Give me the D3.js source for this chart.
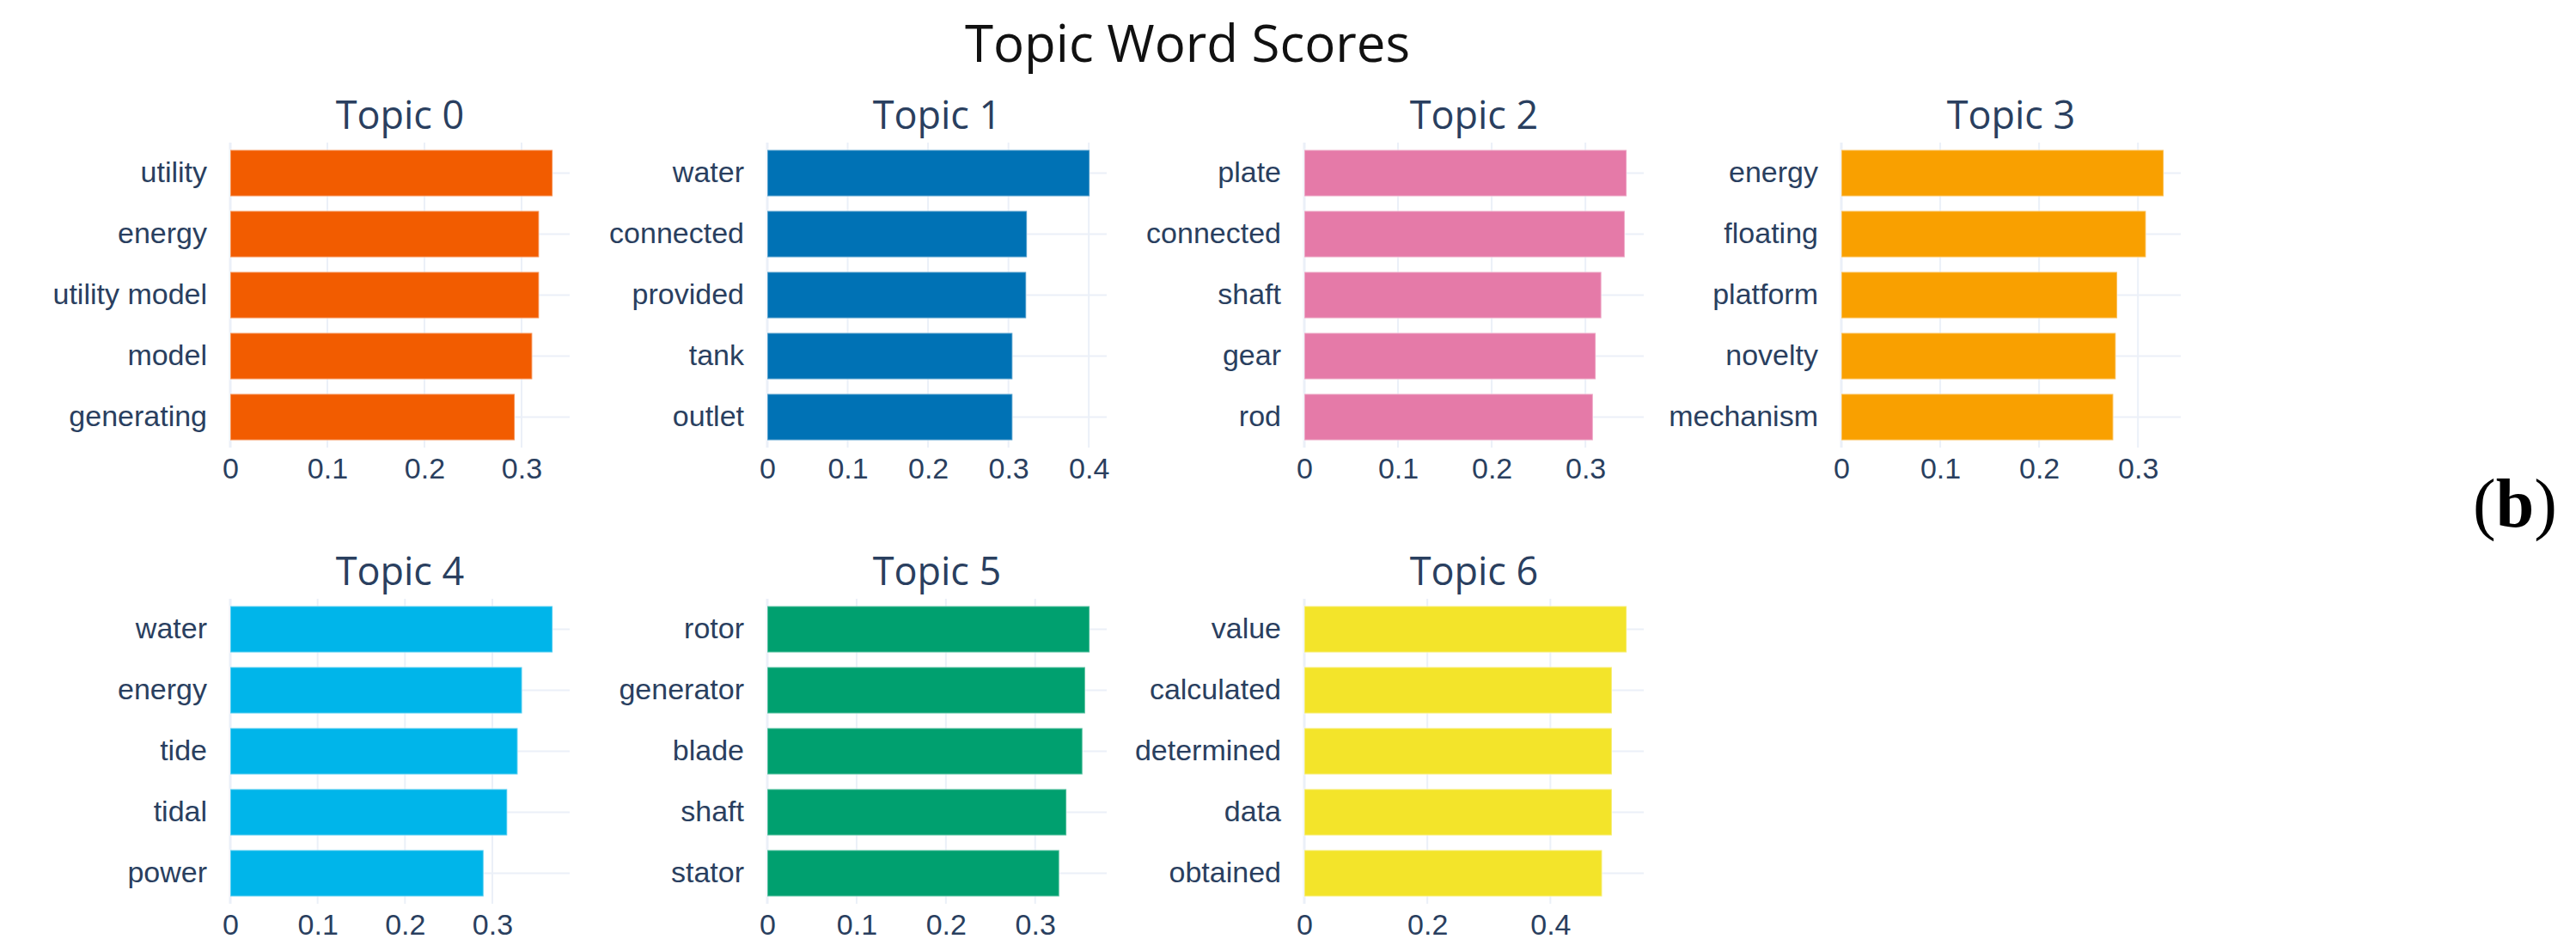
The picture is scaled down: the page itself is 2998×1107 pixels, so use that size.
<!DOCTYPE html>
<html>
<head>
<meta charset="utf-8">
<script src="https://cdn.jsdelivr.net/npm/d3@7"></script>
<style>
  body { margin: 0; background: #fff; }
  svg { display: block; font-family: "Open Sans", sans-serif; }
  .axis path, .axis line { display: none; }
  .axis text { fill: #2a3f5f; font-size: 34px; }
</style>
</head>
<body>
<svg width="2998" height="1107"></svg>
<script>
var topicNames = ["Topic 0", "Topic 1", "Topic 2", "Topic 3", "Topic 4", "Topic 5", "Topic 6"];

var topicWords = [
  ["utility", "energy", "utility model", "model", "generating"],
  ["water", "connected", "provided", "tank", "outlet"],
  ["plate", "connected", "shaft", "gear", "rod"],
  ["energy", "floating", "platform", "novelty", "mechanism"],
  ["water", "energy", "tide", "tidal", "power"],
  ["rotor", "generator", "blade", "shaft", "stator"],
  ["value", "calculated", "determined", "data", "obtained"]
];

var topicScores = [
  [0.332, 0.318, 0.318, 0.311, 0.293],
  [0.401, 0.323, 0.322, 0.305, 0.305],
  [0.344, 0.342, 0.317, 0.311, 0.308],
  [0.326, 0.308, 0.279, 0.2775, 0.275],
  [0.369, 0.334, 0.329, 0.317, 0.290],
  [0.361, 0.356, 0.353, 0.335, 0.327],
  [0.524, 0.500, 0.500, 0.500, 0.484]
];

var topicTicks = [
  [0, 0.1, 0.2, 0.3],
  [0, 0.1, 0.2, 0.3, 0.4],
  [0, 0.1, 0.2, 0.3],
  [0, 0.1, 0.2, 0.3],
  [0, 0.1, 0.2, 0.3],
  [0, 0.1, 0.2, 0.3],
  [0, 0.2, 0.4]
];

var topicColors = ["#f25c00", "#0072b5", "#e57aa8", "#f9a000", "#00b5ea", "#00a06f", "#f3e42a"];

var panelWidth = 395;
var panelHeight = 355;
var colX = [268, 893, 1518, 2143];
var rowY = [166, 697];
var gridColor = "#ebf0f8";

var svg = d3.select("svg");

svg.append("text")
  .attr("x", 1382)
  .attr("y", 72)
  .attr("text-anchor", "middle")
  .style("font-size", "60px")
  .style("fill", "#111")
  .text("Topic Word Scores");

topicNames.forEach(function (name, i) {
  var words = topicWords[i];
  var scores = topicScores[i];
  var px = colX[i % 4];
  var py = rowY[Math.floor(i / 4)];

  var xScale = d3.scaleLinear()
    .domain([0, d3.max(scores) * 1.053])
    .range([0, panelWidth]);

  var yScale = d3.scaleBand()
    .domain(words)
    .range([0, panelHeight])
    .paddingInner(0.24)
    .paddingOuter(0.12);

  var g = svg.append("g").attr("transform", "translate(" + px + "," + py + ")");

  // grid first so bars sit on top
  g.selectAll(".vgrid")
    .data(topicTicks[i])
    .enter()
    .append("line")
    .attr("x1", function (d) { return xScale(d); })
    .attr("x2", function (d) { return xScale(d); })
    .attr("y1", 0)
    .attr("y2", panelHeight)
    .style("stroke", gridColor)
    .style("stroke-width", function (d) { return d == 0 ? 3 : 2; });

  g.selectAll(".hgrid")
    .data(words)
    .enter()
    .append("line")
    .attr("x1", 0)
    .attr("x2", panelWidth)
    .attr("y1", function (d) { return yScale(d) + yScale.bandwidth() / 2; })
    .attr("y2", function (d) { return yScale(d) + yScale.bandwidth() / 2; })
    .style("stroke", gridColor)
    .style("stroke-width", 2);

  g.selectAll("rect")
    .data(words)
    .enter()
    .append("rect")
    .attr("x", xScale(0))
    .attr("y", function (d) { return yScale(d); })
    .attr("width", function (d, j) { return xScale(scores[j]) - xScale(0); })
    .attr("height", yScale.bandwidth())
    .style("fill", topicColors[i])
    .style("stroke", "#ffffff")
    .style("stroke-opacity", 0.35)
    .style("stroke-width", 2);

  g.append("g")
    .attr("class", "axis")
    .attr("transform", "translate(0," + panelHeight + ")")
    .call(d3.axisBottom(xScale)
      .tickValues(topicTicks[i])
      .tickFormat(d3.format("~g"))
      .tickSize(0)
      .tickPadding(12));

  g.append("g")
    .attr("class", "axis")
    .call(d3.axisLeft(yScale).tickSize(0).tickPadding(27));

  g.append("text")
    .attr("x", panelWidth / 2)
    .attr("y", -16)
    .attr("text-anchor", "middle")
    .style("font-size", "45px")
    .style("fill", "#2a3f5f")
    .text(name);
});

var label = svg.append("text")
  .attr("x", 2878)
  .attr("y", 613)
  .style("font-family", "'Liberation Serif', 'Times New Roman', serif")
  .style("font-size", "80px")
  .style("fill", "#000");
label.append("tspan").text("(");
label.append("tspan").style("font-weight", "bold").text("b");
label.append("tspan").text(")");
</script>
</body>
</html>
